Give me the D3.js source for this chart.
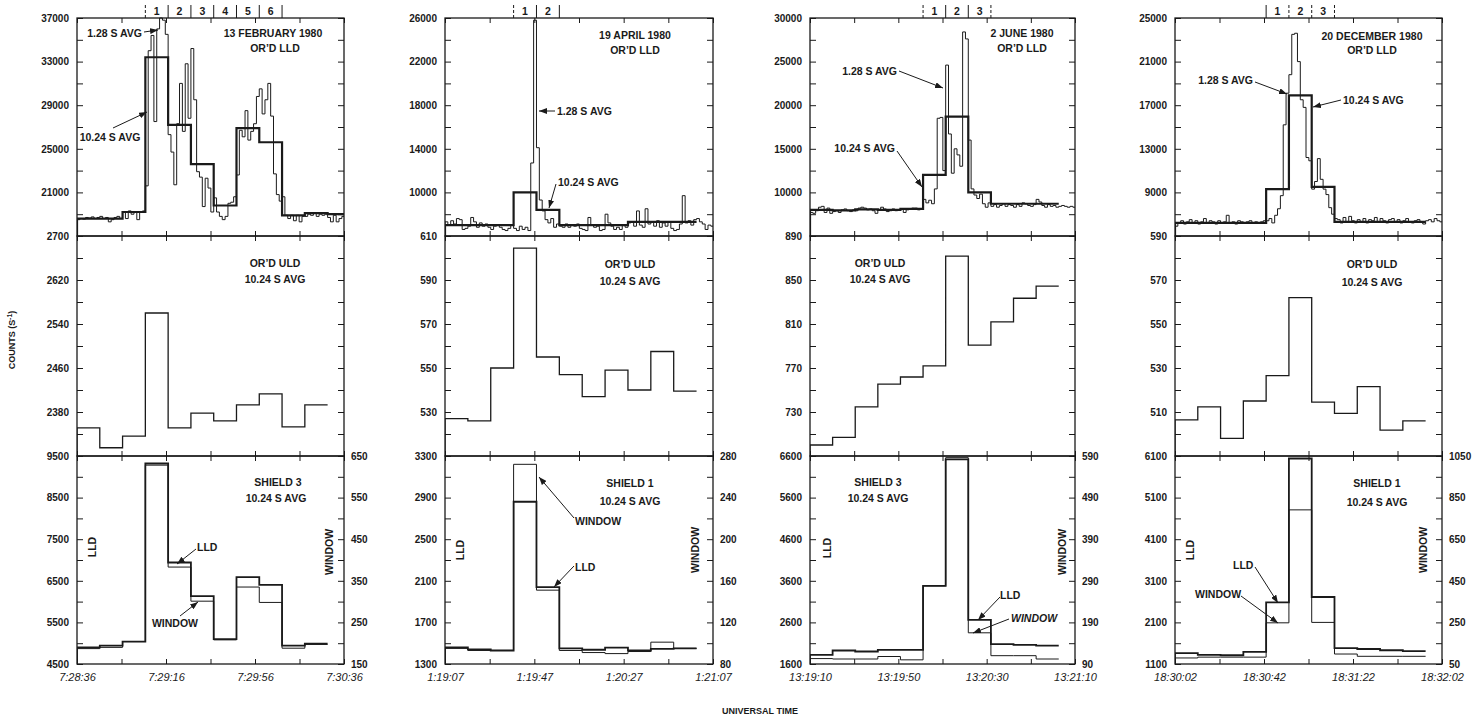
<!DOCTYPE html>
<html><head><meta charset="utf-8">
<script src="https://cdn.jsdelivr.net/npm/d3@7"></script>
<style>
html,body{margin:0;padding:0;background:#fff;}
svg text{font-family:"Liberation Sans",Arial,Helvetica,sans-serif;fill:#1a1a1a;}
</style></head><body>
<svg id="chart" width="1478" height="723"></svg>
<script>
// ---------------- DATA ----------------
// time tick labels (every 40 s) for each event
const febTimes = ['7:28:36','7:29:16','7:29:56','7:30:36'];
const aprTimes = ['1:19:07','1:19:47','1:20:27','1:21:07'];
const junTimes = ['13:19:10','13:19:50','13:20:30','13:21:10'];
const decTimes = ['18:30:02','18:30:42','18:31:22','18:32:02'];

// OR'D LLD, 1.28 s averages
const febFine = [18500,18600,18550,18700,18650,18750,18600,18700,18800,18600,18700,18300,18500,18700,18800,18600,
  19200,18600,19300,19000,19200,18500,19200,19300,
  21600,34000,35400,27500,36000,37000,36800,35500,
  26300,24700,21700,27300,31000,26600,32800,27800,
  34200,29500,22900,22400,19700,22300,21400,19200,
  20500,19200,18800,18500,18800,20000,20100,20600,
  22600,26700,26100,28500,25800,26600,27300,29800,
  30500,28200,29500,31000,28000,22700,20800,20200,
  20600,18900,18600,18900,18400,18900,18300,18800,
  18800,19000,18900,19100,18800,19000,18900,19000,
  18700,18300,18900,18300,18600,18800];
const aprFine = [7300,7000,7400,7100,7600,7500,6600,6700,6900,7700,7300,6800,7200,6900,7100,6800,6600,6900,7000,6800,6600,6500,6700,7000,
  6700,6500,6900,6600,6800,6500,12700,25800,
  14100,9300,8300,7500,7200,7600,6800,7100,
  6900,6800,7100,6800,7000,6900,7100,6700,6600,6500,7700,7000,6800,6900,6500,6600,
  8000,7200,6900,6600,6800,6600,7000,6800,7200,7300,6900,8300,7000,6800,8500,7100,
  7300,6900,7400,6800,7200,6900,7300,6700,6500,6600,7100,9700,7200,7400,7000,7500,
  7600,7300,7100,6600,7000,6900];
const junFine = [7700,7600,7900,8300,8400,7700,8200,7600,7800,7900,7700,8000,8100,7900,7800,8000,7900,8200,8300,8200,
  8000,8100,7900,7600,8000,8300,8100,7800,7900,8100,7900,8000,8100,7700,8000,8100,8200,8200,8000,8100,
  9200,8800,9100,8700,10400,18500,18600,12500,
  24600,16700,12200,15000,14300,13000,28400,27600,
  16000,10400,9700,9300,9800,8700,8300,8800,
  8400,8600,8300,8500,8700,8400,8600,8500,8300,8600,8400,8800,8700,8500,8400,8600,
  9200,8900,8500,8300,8600,8400,8500,8300,8400,8500,8400,8300,8400,8300];
const decFine = [5900,6200,6400,6100,6300,6500,6200,6400,6100,6300,6600,6200,6400,6300,6100,6400,
  6200,6300,6900,6200,6300,6100,6400,6300,6200,6300,6400,6200,6300,6200,6300,6400,
  6400,6600,6200,6900,7500,8700,15200,18100,
  19800,23500,23600,21000,17500,16800,12200,11900,
  9300,10000,12100,10200,9300,8800,7600,7000,
  6600,6500,6200,6700,6300,6800,6400,6200,6500,6300,6600,6200,6500,6400,6700,6300,6600,6400,6200,
  6500,6600,6300,6500,6200,6400,6600,6300,6200,6400,6500,6300,6100,6400,6500,6300,6600,6400,6300];

// OR'D LLD, 10.24 s averages
const febAvg = [18600,18600,19200,33400,27200,23600,19800,26900,25600,18900,19100,19000];
const aprAvg = [7000,7000,7000,10000,8400,7000,7000,7000,7300,7300,7300];
const junAvg = [8000,7950,8050,8000,8100,12000,18700,10000,8700,8700,8700];
const decAvg = [6200,6200,6200,6200,9300,17900,9500,6300,6300,6300,6300];

// OR'D ULD, 10.24 s averages
const febUld = [2351,2315,2336,2560,2351,2378,2364,2393,2413,2353,2393];
const aprUld = [527,526,550,604.5,555,547,537,549,540,557.5,539.5];
const junUld = [700,707,734.6,755.3,761.8,772,871.7,790.8,812,833.4,844.5];
const decUld = [506.4,512.3,498,515,526.5,562,514.5,509.4,521.5,501.8,506];

// SHIELD, 10.24 s averages (LLD on left axis, WINDOW on right axis)
const febShieldLld = [4900,4940,5040,9320,6940,6130,5100,6590,6400,4940,4990];
const febShieldWin = [187,190,204,628,383,301,208,335,298,188,197];
const aprShieldLld = [1460,1440,1430,2860,2040,1450,1437,1458,1430,1446,1450];
const aprShieldWin = [95,93,93,272,151,93,91,90,92,101,95];
const junShieldLld = [1820,1925,1900,1940,1940,3480,6520,2660,2080,2060,2040];
const junShieldWin = [103,102,102,108,100,278,586,165,110,110,102];
const decShieldLld = [1360,1320,1310,1390,2580,6040,2710,1480,1460,1430,1410];
const decShieldWin = [79,83,83,83,248,791,250,98,87,87,87];

// axis tick labels
const febTopTicks = [21000,25000,29000,33000,37000], febMidTicks = [2380,2460,2540,2620,2700];
const febBotTicks = [4500,5500,6500,7500,8500,9500], febWinTicks = [150,250,350,450,550,650];
const aprTopTicks = [10000,14000,18000,22000,26000], aprMidTicks = [530,550,570,590,610];
const aprBotTicks = [1300,1700,2100,2500,2900,3300], aprWinTicks = [80,120,160,200,240,280];
const junTopTicks = [10000,15000,20000,25000,30000], junMidTicks = [730,770,810,850,890];
const junBotTicks = [1600,2600,3600,4600,5600,6600], junWinTicks = [90,190,290,390,490,590];
const decTopTicks = [9000,13000,17000,21000,25000], decMidTicks = [510,530,550,570,590];
const decBotTicks = [1100,2100,3100,4100,5100,6100], decWinTicks = [50,250,450,650,850,1050];

// numbered burst intervals (edges in seconds from start)
const febIntervals = [30.72,40.96,51.2,61.44,71.68,81.92,92.16];
const aprIntervals = [30.72,40.96,51.2];
const junIntervals = [51.2,61.44,71.68,81.92];
const decIntervals = [40.96,51.2,61.44,71.68];

// ---------------- LAYOUT ----------------
const INK = '#1a1a1a';
const FONT = '"Liberation Sans",Arial,Helvetica,sans-serif';
const T_MAX = 120, W_FINE = 1.28, W_AVG = 10.24;
const colX = [[77,344],[445,713],[810,1075],[1175,1442]];
const rowY = [[18,236],[236,456],[456,664]];

const events = [
  {times:febTimes, fine:febFine, avg:febAvg, uld:febUld, sl:febShieldLld, sw:febShieldWin,
   top:febTopTicks, mid:febMidTicks, bot:febBotTicks, win:febWinTicks, iv:febIntervals, ivDash:[1,0,0,0,0,0,0]},
  {times:aprTimes, fine:aprFine, avg:aprAvg, uld:aprUld, sl:aprShieldLld, sw:aprShieldWin,
   top:aprTopTicks, mid:aprMidTicks, bot:aprBotTicks, win:aprWinTicks, iv:aprIntervals, ivDash:[1,0,0]},
  {times:junTimes, fine:junFine, avg:junAvg, uld:junUld, sl:junShieldLld, sw:junShieldWin,
   top:junTopTicks, mid:junMidTicks, bot:junBotTicks, win:junWinTicks, iv:junIntervals, ivDash:[1,0,0,1]},
  {times:decTimes, fine:decFine, avg:decAvg, uld:decUld, sl:decShieldLld, sw:decShieldWin,
   top:decTopTicks, mid:decMidTicks, bot:decBotTicks, win:decWinTicks, iv:decIntervals, ivDash:[0,1,1,1]}
];

// annotations, panel-relative pixels
const notes = [
  [ // Feb
    {r:0, t:[['13 FEBRUARY 1980',196,15,'middle'],['OR\u2019D LLD',198,30,'middle'],['1.28 S AVG',65,15,'end'],['10.24 S AVG',33,119,'middle']],
     a:[[67,14,81,12],[36,110,70,94]]},
    {r:1, t:[['OR\u2019D ULD',198,27,'middle'],['10.24 S AVG',198,43,'middle']], a:[]},
    {r:2, t:[['SHIELD 3',201,26,'middle'],['10.24 S AVG',199,42,'middle'],['LLD',120,91,'start'],['WINDOW',98,167,'middle']],
     a:[[119,93,100,108],[103,160,121,146]]}
  ],
  [ // Apr
    {r:0, t:[['19 APRIL 1980',190,17,'middle'],['OR\u2019D LLD',190,32,'middle'],['1.28 S AVG',112,93,'start'],['10.24 S AVG',113,164,'start']],
     a:[[110,93,94,93],[111,166,104,190]]},
    {r:1, t:[['OR\u2019D ULD',185,28,'middle'],['10.24 S AVG',185,45,'middle']], a:[]},
    {r:2, t:[['SHIELD 1',185,27,'middle'],['10.24 S AVG',185,45,'middle'],['WINDOW',130,65,'start'],['LLD',130,111,'start']],
     a:[[129,62,94,21],[129,110,109,131]]}
  ],
  [ // Jun
    {r:0, t:[['2 JUNE 1980',212,15,'middle'],['OR\u2019D LLD',212,30,'middle'],['1.28 S AVG',87,53,'end'],['10.24 S AVG',85,130,'end']],
     a:[[89,53,133,70],[87,133,112,169]]},
    {r:1, t:[['OR\u2019D ULD',70,27,'middle'],['10.24 S AVG',70,43,'middle']], a:[]},
    {r:2, t:[['SHIELD 3',68,26,'middle'],['10.24 S AVG',68,42,'middle'],['LLD',190,139,'start'],['WINDOW',201,162,'start',true]],
     a:[[190,141,168,164],[199,163,163,177]]}
  ],
  [ // Dec
    {r:0, t:[['20 DECEMBER 1980',197,18,'middle'],['OR\u2019D LLD',197,32,'middle'],['1.28 S AVG',78,62,'end'],['10.24 S AVG',168,82,'start']],
     a:[[80,64,112,76],[166,82,138,89]]},
    {r:1, t:[['OR\u2019D ULD',197,28,'middle'],['10.24 S AVG',197,46,'middle']], a:[]},
    {r:2, t:[['SHIELD 1',202,27,'middle'],['10.24 S AVG',202,46,'middle'],['LLD',58,109,'start'],['WINDOW',20,138,'start']],
     a:[[80,111,103,147],[66,140,103,167]]}
  ]
];
const rotLabels = [[15,91,252,96],[15,94,250,94],[17,92,252,96],[15,94,248,94]];

// ---------------- DRAW ----------------
const svg = d3.select('#chart');
const defs = svg.append('defs');
defs.append('marker').attr('id','arr').attr('viewBox','0 0 8 6').attr('refX',8).attr('refY',3)
  .attr('markerWidth',8).attr('markerHeight',6).attr('markerUnits','userSpaceOnUse').attr('orient','auto')
  .append('path').attr('d','M0,0L8,3L0,6Z').attr('fill',INK);

function stepPts(vals, w, vmin) {
  const pts = [[0, vmin]];
  vals.forEach((v,i) => pts.push([i*w, v]));
  pts.push([Math.min(vals.length*w, T_MAX), vals[vals.length-1]]);
  return pts.filter(p => p[0] <= T_MAX);
}
function styleAxis(g, size, italic) {
  g.attr('font-family', FONT).attr('font-size', size).attr('color', INK);
  g.selectAll('text').attr('font-weight', 'bold').attr('font-style', italic ? 'italic' : 'normal');
  g.selectAll('.tick line').attr('stroke-width', 1);
  g.select('.domain').remove();
}

events.forEach((ev, c) => {
  const [x0, x1] = colX[c];
  const x = d3.scaleLinear().domain([0, T_MAX]).range([x0, x1]);
  const panels = [
    {labels: ev.top, rows: rowY[0]},
    {labels: ev.mid, rows: rowY[1]},
    {labels: ev.bot, rows: rowY[2]}
  ];
  panels.forEach((p, r) => {
    const [yt, yb] = p.rows;
    const L = p.labels, step = (L[1]-L[0]);
    const domain = r < 2 ? [L[0]-step, L[L.length-1]] : [L[0], L[L.length-1]];
    const y = d3.scaleLinear().domain(domain).range([yb, yt]);
    p.y = y; p.domain = domain;
    const g = svg.append('g');
    const clipId = `clip${c}${r}`;
    defs.append('clipPath').attr('id', clipId).append('rect')
      .attr('x', x0).attr('y', yt - 1).attr('width', x1 - x0).attr('height', yb - yt + 2);

    // left axis
    const minor = d3.range(domain[0], domain[1] + step/4, step/2);
    const ga = g.append('g').attr('transform', `translate(${x0},0)`)
      .call(d3.axisLeft(y).tickValues(minor).tickSize(-6).tickPadding(8)
        .tickFormat(v => (L.includes(v) && (r === 2 || v !== domain[0])) ? String(v) : ''));
    styleAxis(ga, 10);
    // right axis
    if (r < 2) {
      const gr = g.append('g').attr('transform', `translate(${x1},0)`)
        .call(d3.axisRight(y).tickValues(minor).tickSize(-6).tickFormat(''));
      styleAxis(gr, 10);
    } else {
      const W = ev.win, ws = W[1]-W[0];
      const y2 = d3.scaleLinear().domain([W[0], W[W.length-1]]).range([yb, yt]);
      p.y2 = y2;
      const gr = g.append('g').attr('transform', `translate(${x1},0)`)
        .call(d3.axisRight(y2).tickValues(d3.range(W[0], W[W.length-1] + ws/4, ws/2))
          .tickSize(-6).tickPadding(7).tickFormat(v => W.includes(v) ? String(v) : ''));
      styleAxis(gr, 10);
    }
    // time ticks top & bottom
    const tv = d3.range(0, T_MAX + 1, 20);
    const gt = g.append('g').attr('transform', `translate(0,${yt})`)
      .call(d3.axisTop(x).tickValues(tv).tickSize(-5).tickFormat(''));
    styleAxis(gt, 10);
    const gb = g.append('g').attr('transform', `translate(0,${yb})`)
      .call(d3.axisBottom(x).tickValues(tv).tickSize(-5).tickPadding(9)
        .tickFormat(v => (r === 2 && v % 40 === 0) ? ev.times[v/40] : ''));
    styleAxis(gb, 11, true);
    gb.selectAll('text').attr('font-weight', 'normal');

    // frame
    g.append('rect').attr('x', x0).attr('y', yt).attr('width', x1 - x0).attr('height', yb - yt)
      .attr('fill', 'none').attr('stroke', INK).attr('stroke-width', 1.3);

    const line = (ys) => d3.line().x(d => x(d[0])).y(d => ys(d[1])).curve(d3.curveStepAfter);
    const plot = g.append('g').attr('clip-path', `url(#${clipId})`);
    if (r === 0) {
      plot.append('path').attr('d', line(y)(stepPts(ev.fine, W_FINE, domain[0])))
        .attr('fill','none').attr('stroke',INK).attr('stroke-width',1);
      plot.append('path').attr('d', line(y)(stepPts(ev.avg, W_AVG, domain[0])))
        .attr('fill','none').attr('stroke',INK).attr('stroke-width',2.2);
    } else if (r === 1) {
      plot.append('path').attr('d', line(y)(stepPts(ev.uld, W_AVG, domain[0])))
        .attr('fill','none').attr('stroke',INK).attr('stroke-width',1.3);
    } else {
      plot.append('path').attr('d', line(p.y2)(stepPts(ev.sw, W_AVG, p.y2.domain()[0])))
        .attr('fill','none').attr('stroke',INK).attr('stroke-width',1);
      plot.append('path').attr('d', line(y)(stepPts(ev.sl, W_AVG, domain[0])))
        .attr('fill','none').attr('stroke',INK).attr('stroke-width',1.8);
    }

    // annotations
    const nt = notes[c][r];
    nt.t.forEach(([s, dx, dy, anc, it]) => {
      g.append('text').attr('x', x0 + dx).attr('y', yt + dy).attr('dy', '0.35em')
        .attr('text-anchor', anc).attr('font-size', 10.5).attr('font-weight', 'bold')
        .attr('font-style', it ? 'italic' : 'normal').text(s);
    });
    nt.a.forEach(([ax1, ay1, ax2, ay2]) => {
      g.append('line').attr('x1', x0 + ax1).attr('y1', yt + ay1).attr('x2', x0 + ax2).attr('y2', yt + ay2)
        .attr('stroke', INK).attr('stroke-width', 1).attr('marker-end', 'url(#arr)');
    });
    if (r === 2) {
      const [lx, ly, wx, wy] = rotLabels[c];
      g.append('text').attr('transform', `translate(${x0 + lx},${yt + ly}) rotate(-90)`)
        .attr('text-anchor','middle').attr('dy','0.35em').attr('font-size',10.5).attr('font-weight','bold').text('LLD');
      g.append('text').attr('transform', `translate(${x0 + wx},${yt + wy}) rotate(-90)`)
        .attr('text-anchor','middle').attr('dy','0.35em').attr('font-size',10.5).attr('font-weight','bold').text('WINDOW');
    }
  });

  // numbered interval markers above the top panel
  const yt = rowY[0][0];
  const gi = svg.append('g');
  ev.iv.forEach((t, i) => {
    gi.append('line').attr('x1', x(t)).attr('x2', x(t)).attr('y1', yt - 13).attr('y2', yt)
      .attr('stroke', INK).attr('stroke-width', 1).attr('stroke-dasharray', ev.ivDash[i] ? '3,2' : null);
    if (i < ev.iv.length - 1) {
      gi.append('text').attr('x', (x(t) + x(ev.iv[i+1])) / 2).attr('y', yt - 7).attr('dy','0.35em')
        .attr('text-anchor','middle').attr('font-size',10.5).attr('font-weight','bold').text(i + 1);
    }
  });
});

// global labels
const yl = svg.append('text').attr('transform','translate(15,340) rotate(-90)').attr('text-anchor','middle')
  .attr('font-size',9).attr('font-weight','bold');
yl.append('tspan').text('COUNTS (S');
yl.append('tspan').attr('baseline-shift','super').attr('font-size',7).text('-1');
yl.append('tspan').text(')');
svg.append('text').attr('x',760).attr('y',714).attr('text-anchor','middle').attr('font-size',9)
  .attr('font-weight','bold').text('UNIVERSAL TIME');
</script>
</body></html>
